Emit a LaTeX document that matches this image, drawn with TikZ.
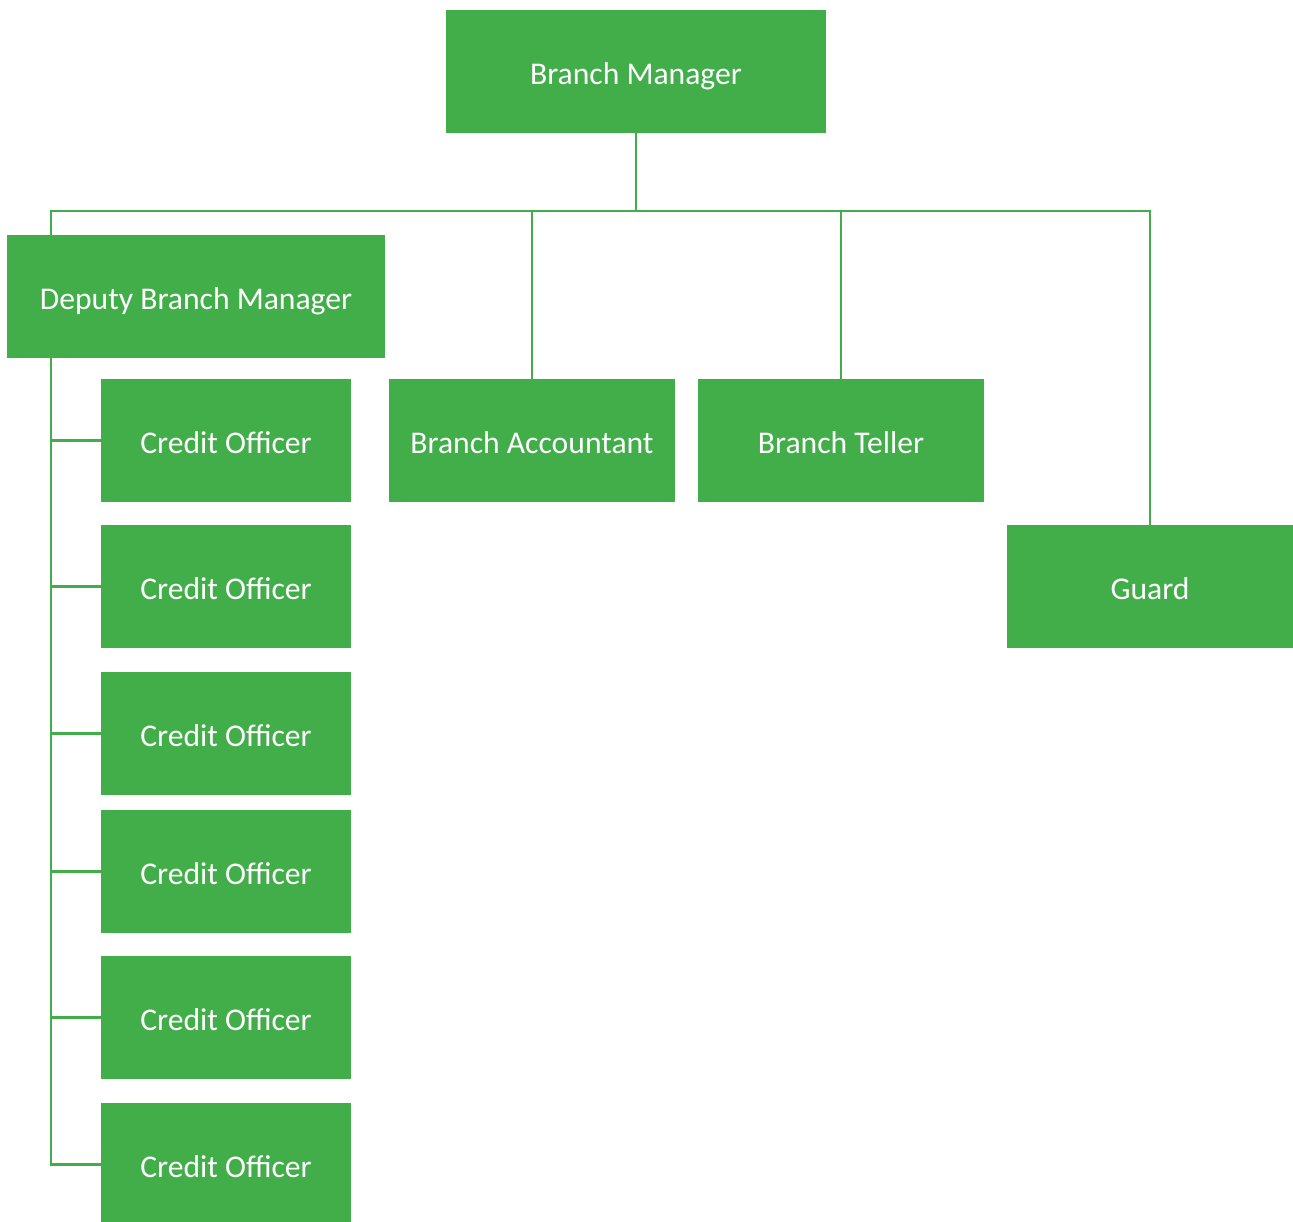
\documentclass[tikz,border=0pt]{standalone}
\usepackage{fontspec}
\setmainfont{Carlito}
\usetikzlibrary{positioning}
\definecolor{orgGreen}{RGB}{66, 174, 74}

\begin{document}
\begin{tikzpicture}[
  x=0.02cm, y=-0.02cm,
  role/.style={
    fill=orgGreen,
    text=white,
    minimum height=2.46cm,
    inner sep=0pt,
    text height=14.4pt,
    text depth=0pt,
    font=\fontsize{18}{21}\selectfont,
    align=center
  },
  link/.style={orgGreen, line width=1.4pt}
]
  \useasboundingbox (0,0) rectangle (1293,1221);

  \node[role,minimum width=7.6cm] (manager) at (636,71.5) {Branch Manager};
  \node[role,minimum width=7.56cm] (deputy) at (196,296.5) {Deputy Branch Manager};
  \node[role,minimum width=5.72cm] (accountant) at (532,440.5) {Branch Accountant};
  \node[role,minimum width=5.72cm] (teller) at (841,440.5) {Branch Teller};
  \node[role,minimum width=5.72cm] (guard) at (1150,586.5) {Guard};

  \foreach \y [count=\i] in {440.5,586.5,733.5,871.5,1017.5,1164.5}
    \node[role,minimum width=5cm] (officer\i) at (226,\y) {Credit Officer};

  % bus under the manager
  \coordinate (bus) at (51,211);
  \draw[link] (manager.south) -- (manager.south |- bus);
  \draw[link] (bus |- deputy.north) -- (bus) -| (guard.north);
  \draw[link] (manager.south |- bus) -| (accountant.north);
  \draw[link] (manager.south |- bus) -| (teller.north);

  % credit officers under the deputy
  \draw[link] (bus |- deputy.south) |- (officer6.west);
  \foreach \i in {1,...,5}
    \draw[link] (bus |- officer\i.west) -- (officer\i.west);
\end{tikzpicture}
\end{document}
